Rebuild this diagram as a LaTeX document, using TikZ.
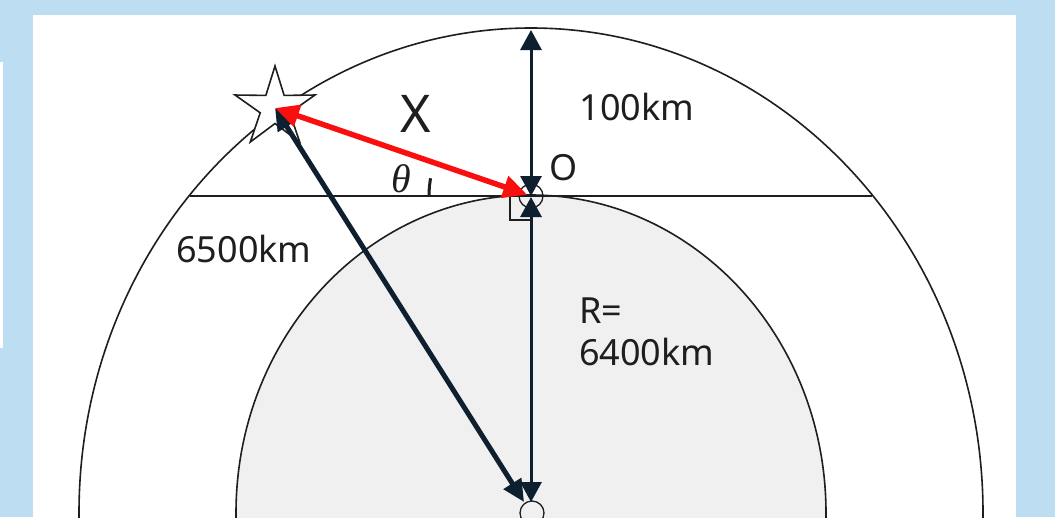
\documentclass[tikz,border=0pt]{standalone}
\usepackage{fontspec}
\setmainfont{Noto Sans}
\newfontfamily\greekserif{Liberation Serif}
\usetikzlibrary{arrows.meta,shapes.geometric,calc}
\definecolor{bg}{RGB}{189,221,242}
\definecolor{navy}{RGB}{14,32,48}
\definecolor{core}{RGB}{240,240,240}
\definecolor{redarr}{RGB}{250,15,15}
\definecolor{ink}{RGB}{30,30,30}
\begin{document}
\begin{tikzpicture}[x=1pt,y=-1pt,
  lbl/.style={font=\fontsize{36}{40}\selectfont, inner sep=0pt, text=ink, anchor=base},
  outline/.style={draw=ink, line width=1.6pt},
  dimarrow/.style={navy, line width=3pt, {Triangle[length=20pt,width=21pt]}-{Triangle[length=20pt,width=21pt]}},
  diagarrow/.style={navy, line width=5pt, {Triangle[length=22pt,width=20pt]}-{Triangle[length=22pt,width=20pt]}},
  redarrow/.style={redarr, line width=5.5pt, {Triangle[length=24pt,width=22pt]}-{Triangle[length=24pt,width=22pt]}}]
\useasboundingbox (0,0) rectangle (1055,517);
\fill[bg] (0,0) rectangle (1055,517);
\fill[white] (0,62) rectangle (3,348);
\fill[white] (33,15) rectangle (1016,517);
\coordinate (C) at (531,513);
\coordinate (O) at (531,196);
\coordinate (T) at (531,28);
\coordinate (L) at (190,196);
\coordinate (Rt) at (872,196);
\begin{scope}
\clip (33,15) rectangle (1016,517);
\draw[outline] (C) ellipse [x radius=452, y radius=485];
\filldraw[outline, fill=core] (C) ellipse [x radius=295, y radius=318];
\end{scope}
\draw[outline] (L) -- (Rt);
% right angle mark
\draw[draw=ink, line width=1.2pt] ($(O)+(-21,0)$) |- ($(O)+(0,24)$);
% star
\node[star, star points=5, star point ratio=2.7, minimum size=84pt, inner sep=0pt,
      outline, fill=white] (S) at (275,108) {};
% small circles
\draw[draw=ink, line width=1.3pt] (O) circle [radius=12];
\draw[draw=ink, line width=1.3pt] ($(C)+(1,0)$) circle [radius=12];
% vertical dimension arrows
\draw[dimarrow, shorten <=2pt] (T) -- (O);
\draw[dimarrow, shorten <=1pt, shorten >=11pt] (O) -- (C);
% diagonal
\draw[diagarrow, shorten >=13pt] (S.center) -- (C);
% red X
\draw[redarrow, shorten >=4pt] (S.center) -- (O);
% theta arc
\draw[draw=ink, line width=3pt] (O) ++(180:102) arc[start angle=180, end angle=190, radius=102];
% labels
\node[lbl, font=\fontsize{52}{56}\selectfont] (Xl) at (416,132) {X};
\node[lbl] (h100) at (637,120) {100km};
\node[lbl] (Ol) at (564,180) {O};
\node[lbl, font=\fontsize{40}{42}\selectfont\greekserif\itshape] (th) at (401,192) {θ};
\node[lbl] (r6500) at (244,262) {6500km};
\node[lbl, anchor=base west] (Req) at (579,323) {R=};
\node[lbl, anchor=base west] (Rval) at (579,365) {6400km};
\end{tikzpicture}
\end{document}
